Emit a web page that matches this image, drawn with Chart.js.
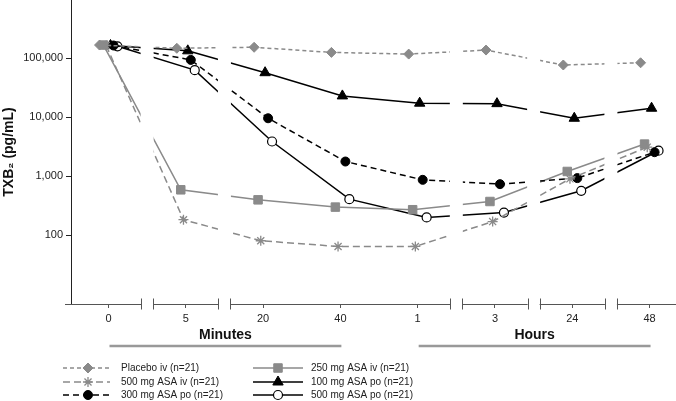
<!DOCTYPE html>
<html>
<head>
<meta charset="utf-8">
<script src="https://cdn.jsdelivr.net/npm/chart.js@4/dist/chart.umd.min.js"></script>
<style>
  html, body { margin: 0; padding: 0; background: #fff; }
  canvas { display: block; }
</style>
</head>
<body>
<canvas id="chart" width="676" height="401"></canvas>
<script>
const categories = ['0', '5', '20', '40', '1', '3', '24', '48'];
const groupLabels = ['Minutes', 'Hours'];
const groupFirst = [0, 4];
const groupLast = [3, 7];
const yTicks = [100, 1000, 10000, 100000];

const placeboIv = [168000, 148000, 154000, 126000, 118000, 138000, 77000, 84000];
const asa500Iv = [165000, 182, 80, 64, 64, 169, 900, 3100];
const asa300Po = [165000, 94000, 9600, 1770, 865, 731, 925, 2550];
const asa250Iv = [168000, 586, 396, 298, 269, 371, 1200, 3500];
const asa100Po = [165000, 134000, 57000, 23000, 17300, 17000, 9600, 14200];
const asa500Po = [160000, 63000, 3870, 407, 199, 241, 564, 2700];

// axis breaks sit between these category pairs
const breaks = [0.5, 1.5, 4.5, 5.5, 6.5];

const GRAY = '#8a8a8a';
const FONT = "'Liberation Sans', Arial, sans-serif";

// small horizontal dodge so the markers don't sit on top of each other
function pts(values, dodge) {
  return values.map((v, i) => ({ x: i + dodge, y: v }));
}

const datasets = [
  { label: 'Placebo iv (n=21)', data: pts(placeboIv, -0.116), borderColor: GRAY, backgroundColor: GRAY,
    borderDash: [4, 3], pointStyle: 'rectRot', pointRadius: 5, pointBorderWidth: 1 },
  { label: '500 mg ASA iv (n=21)', data: pts(asa500Iv, -0.03), borderColor: GRAY, backgroundColor: GRAY,
    borderDash: [7, 4], pointStyle: 'star', pointRadius: 5, pointBorderWidth: 1.3 },
  { label: '300 mg ASA po (n=21)', data: pts(asa300Po, 0.065), borderColor: '#000', backgroundColor: '#000',
    borderDash: [6, 4], pointStyle: 'circle', pointRadius: 4.5, pointBorderWidth: 1 },
  { label: '250 mg ASA iv (n=21)', data: pts(asa250Iv, -0.065), borderColor: GRAY, backgroundColor: GRAY,
    borderDash: [], pointStyle: 'rect', pointRadius: 6, pointBorderWidth: 1 },
  { label: '100 mg ASA po (n=21)', data: pts(asa100Po, 0.026), borderColor: '#000', backgroundColor: '#000',
    borderDash: [], pointStyle: 'triangle', pointRadius: 6, pointBorderWidth: 1 },
  { label: '500 mg ASA po (n=21)', data: pts(asa500Po, 0.116), borderColor: '#000', backgroundColor: '#fff',
    borderDash: [], pointStyle: 'circle', pointRadius: 4.5, pointBorderWidth: 1.2 }
];
datasets.forEach(d => {
  d.borderWidth = 1.5;
  d.pointBackgroundColor = d.backgroundColor;
  d.pointBorderColor = d.borderColor;
  d.pointHoverRadius = d.pointRadius;
  d.tension = 0;
});

// white bands through the plot where the time axis is broken
const breakBands = {
  id: 'breakBands',
  afterDatasetsDraw(chart) {
    const { ctx, chartArea, scales } = chart;
    ctx.save();
    ctx.fillStyle = '#fff';
    breaks.forEach(b => {
      const px = scales.x.getPixelForValue(b);
      ctx.fillRect(px - 6.5, chartArea.top, 13, chartArea.bottom - chartArea.top - 1);
    });
    ctx.restore();
  }
};

// broken x axis line, group captions and the legend
const extras = {
  id: 'extras',
  afterDraw(chart) {
    const { ctx, chartArea, scales } = chart;
    const x = scales.x;
    const y0 = chartArea.bottom + 0.5;
    ctx.save();
    ctx.strokeStyle = '#555';
    ctx.lineWidth = 1;
    const edges = [65];
    breaks.forEach(b => {
      const px = x.getPixelForValue(b);
      edges.push(px - 6, px + 6);
    });
    edges.push(676);
    for (let i = 0; i < edges.length; i += 2) {
      ctx.beginPath();
      ctx.moveTo(edges[i], y0);
      ctx.lineTo(edges[i + 1], y0);
      ctx.stroke();
    }
    for (let i = 1; i < edges.length - 1; i++) {
      const ex = Math.round(edges[i]) + 0.5;
      ctx.beginPath();
      ctx.moveTo(ex, y0 - 6);
      ctx.lineTo(ex, y0 + 5);
      ctx.stroke();
    }

    groupLabels.forEach((g, i) => {
      const a = x.getPixelForValue(groupFirst[i]) + 1;
      const b = x.getPixelForValue(groupLast[i]) + 1;
      ctx.fillStyle = '#111';
      ctx.font = 'bold 14px ' + FONT;
      ctx.textAlign = 'center';
      ctx.textBaseline = 'middle';
      ctx.fillText(g, (a + b) / 2, 335);
      ctx.strokeStyle = '#999';
      ctx.lineWidth = 2.5;
      ctx.beginPath();
      ctx.moveTo(a, 346);
      ctx.lineTo(b, 346);
      ctx.stroke();
    });

    const rows = [368, 382, 395];
    const cols = [
      { x0: 63, x1: 110, mk: 88, tx: 121 },
      { x0: 253, x1: 303, mk: 278, tx: 311 }
    ];
    chart.data.datasets.forEach((d, i) => {
      const c = cols[Math.floor(i / 3)];
      const ry = rows[i % 3];
      ctx.strokeStyle = d.borderColor;
      ctx.lineWidth = d.borderWidth;
      ctx.setLineDash(d.borderDash);
      ctx.beginPath();
      ctx.moveTo(c.x0, ry);
      ctx.lineTo(c.x1, ry);
      ctx.stroke();
      ctx.setLineDash([]);
      ctx.fillStyle = d.pointBackgroundColor;
      ctx.strokeStyle = d.pointBorderColor;
      ctx.lineWidth = d.pointBorderWidth;
      Chart.helpers.drawPoint(ctx, {
        pointStyle: d.pointStyle, radius: d.pointRadius, rotation: 0, borderWidth: d.pointBorderWidth
      }, c.mk, ry);
      ctx.fillStyle = '#222';
      ctx.font = '10px ' + FONT;
      ctx.textAlign = 'left';
      ctx.textBaseline = 'middle';
      ctx.fillText(d.label, c.tx, ry);
    });
    ctx.restore();
  }
};

new Chart(document.getElementById('chart'), {
  type: 'line',
  data: { datasets },
  options: {
    responsive: false,
    animation: false,
    events: [],
    layout: { padding: 0, autoPadding: false },
    plugins: { legend: { display: false }, tooltip: { enabled: false } },
    scales: {
      x: {
        type: 'linear',
        min: -0.485,
        max: 7.342,
        afterBuildTicks: s => { s.ticks = categories.map((c, i) => ({ value: i })); },
        afterFit: s => { s.height = 97; s.paddingLeft = 0; s.paddingRight = 0; },
        border: { display: false },
        grid: { drawOnChartArea: false, drawTicks: true, tickLength: 4, color: '#555' },
        ticks: {
          autoSkip: false, maxRotation: 0, padding: 4, color: '#222',
          font: { family: FONT, size: 11 },
          callback: v => categories[v]
        }
      },
      y: {
        type: 'logarithmic',
        min: 6.75,
        max: 977000,
        afterBuildTicks: s => { s.ticks = yTicks.map(v => ({ value: v })); },
        afterFit: s => { s.width = 71; s.paddingTop = 0; s.paddingBottom = 0; },
        border: { color: '#222', width: 1 },
        grid: { drawOnChartArea: false, drawTicks: true, tickLength: 5, color: '#222' },
        ticks: {
          padding: 3, color: '#222',
          font: { family: FONT, size: 11 },
          callback: v => v.toLocaleString('en-US')
        },
        title: {
          display: true, text: 'TXB\u2082 (pg/mL)', color: '#111',
          font: { family: FONT, size: 14, weight: 'bold' },
          padding: { top: 1, bottom: 0 }
        }
      }
    }
  },
  plugins: [breakBands, extras]
});
</script>
</body>
</html>
